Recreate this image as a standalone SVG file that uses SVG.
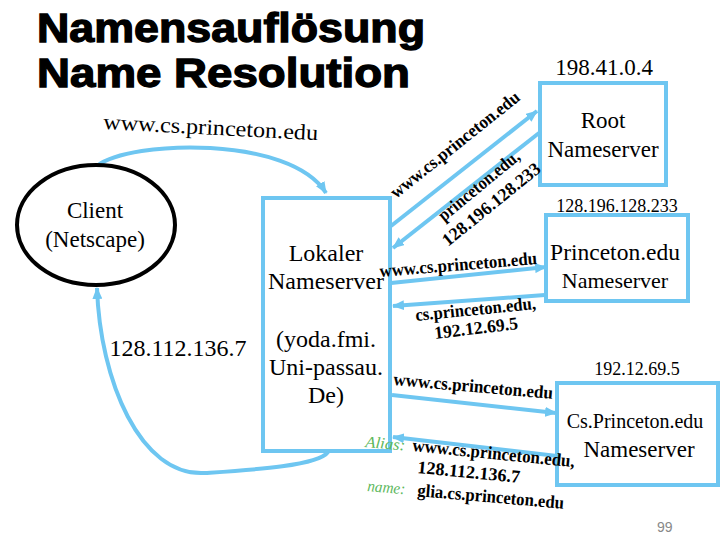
<svg xmlns="http://www.w3.org/2000/svg" width="720" height="540" viewBox="0 0 720 540">
<style>
.title{font-family:"Liberation Sans",Arial,sans-serif;font-weight:bold;font-size:40px;fill:#000;stroke:#000;stroke-width:1.3}
.box{fill:#fff;stroke:#6EC6F1;stroke-width:4}
.t{font-family:"Liberation Serif","Times New Roman",serif;fill:#000;text-anchor:middle}
.lbl{font-family:"Liberation Serif","Times New Roman",serif;font-weight:bold;fill:#000;font-size:18px}
.g{font-family:"Liberation Serif","Times New Roman",serif;font-style:italic;fill:#5CB85C;font-size:16px}
.c{fill:none;stroke:#6EC6F1;stroke-width:4}
</style>
<defs>
<marker id="ah" viewBox="0 0 12 10" refX="11" refY="5" markerWidth="12" markerHeight="10" markerUnits="userSpaceOnUse" orient="auto">
<path d="M0,0 L12,5 L0,10 Z" fill="#6EC6F1"/>
</marker>
</defs>
<rect width="720" height="540" fill="#fff"/>
<g id="title">
<text class="title" x="37" y="42" textLength="388" lengthAdjust="spacingAndGlyphs">Namensauflösung</text>
<text class="title" x="37" y="87" textLength="373" lengthAdjust="spacingAndGlyphs">Name Resolution</text>
</g>
<g id="connectors">
<path class="c" d="M97,166 C130,140 290,135 326,193" marker-end="url(#ah)"/>
<path class="c" d="M328,452 C318,466 250,470 205,473 C140,477 100,380 97,288" marker-end="url(#ah)"/>
<path class="c" d="M391,226 L537,111" marker-end="url(#ah)"/>
<path class="c" d="M539,133 L393,248" marker-end="url(#ah)"/>
<path class="c" d="M391,283 L546,267" marker-end="url(#ah)"/>
<path class="c" d="M545,295 L393,306" marker-end="url(#ah)"/>
<path class="c" d="M392,395 L556,413" marker-end="url(#ah)"/>
<path class="c" d="M557,456 L393,437" marker-end="url(#ah)"/>
</g>
<g id="client">
<ellipse cx="96" cy="225" rx="79" ry="60" fill="#fff" stroke="#000" stroke-width="4"/>
<text class="t" x="95" y="218" font-size="23">Client</text>
<text class="t" x="95" y="247" font-size="23">(Netscape)</text>
<text class="t" x="178" y="356" font-size="24">128.112.136.7</text>
</g>
<g id="lokaler">
<rect class="box" x="263" y="198" width="127" height="253"/>
<text class="t" x="326" y="261" font-size="24">Lokaler</text>
<text class="t" x="326" y="289" font-size="24">Nameserver</text>
<text class="t" x="326" y="347" font-size="24">(yoda.fmi.</text>
<text class="t" x="326" y="375" font-size="24">Uni-passau.</text>
<text class="t" x="326" y="403" font-size="24">De)</text>
</g>
<g id="root">
<rect class="box" x="540" y="83" width="126" height="102"/>
<text class="t" x="604" y="75" font-size="23">198.41.0.4</text>
<text class="t" x="603" y="128" font-size="23">Root</text>
<text class="t" x="603" y="157" font-size="23">Nameserver</text>
</g>
<g id="princeton">
<rect class="box" x="546" y="215" width="142" height="86"/>
<text class="t" x="617" y="212" font-size="18">128.196.128.233</text>
<text class="t" x="615" y="260" font-size="23.5">Princeton.edu</text>
<text class="t" x="615" y="288" font-size="22">Nameserver</text>
</g>
<g id="csprinceton">
<rect class="box" x="557" y="383" width="161" height="102"/>
<text class="t" x="637" y="375" font-size="18">192.12.69.5</text>
<text class="t" x="635" y="428" font-size="20">Cs.Princeton.edu</text>
<text class="t" x="639" y="457" font-size="23">Nameserver</text>
</g>
<g id="labels">
<text class="t" x="103" y="129" style="text-anchor:start;font-size:22px" transform="rotate(3 103 129)" textLength="215" lengthAdjust="spacingAndGlyphs">www.cs.princeton.edu</text>
<text class="lbl" x="396" y="199" transform="rotate(-38.5 396 199)" textLength="160" lengthAdjust="spacingAndGlyphs">www.cs.princeton.edu</text>
<text class="lbl" x="444" y="222" transform="rotate(-39.5 444 222)" textLength="100" lengthAdjust="spacingAndGlyphs">princeton.edu,</text>
<text class="lbl" x="448" y="247" transform="rotate(-39 448 247)" textLength="121" lengthAdjust="spacingAndGlyphs">128.196.128.233</text>
<text class="lbl" x="380" y="277" transform="rotate(-4.7 380 277)" textLength="158" lengthAdjust="spacingAndGlyphs">www.cs.princeton.edu</text>
<text class="lbl" x="416" y="321" transform="rotate(-5.7 416 321)" textLength="121" lengthAdjust="spacingAndGlyphs">cs.princeton.edu,</text>
<text class="lbl" x="435" y="339" transform="rotate(-6.8 435 339)" textLength="84" lengthAdjust="spacingAndGlyphs">192.12.69.5</text>
<text class="lbl" x="393" y="385" transform="rotate(5 393 385)" textLength="160" lengthAdjust="spacingAndGlyphs">www.cs.princeton.edu</text>
<text class="g" x="365" y="447" transform="rotate(5 365 447)" textLength="40" lengthAdjust="spacingAndGlyphs">Alias:</text>
<text class="lbl" x="412" y="451" transform="rotate(5.7 412 451)" textLength="163" lengthAdjust="spacingAndGlyphs">www.cs.princeton.edu,</text>
<text class="lbl" x="417" y="473" transform="rotate(5.5 417 473)" textLength="103" lengthAdjust="spacingAndGlyphs">128.112.136.7</text>
<text class="g" x="367" y="491" transform="rotate(5 367 491)" textLength="38" lengthAdjust="spacingAndGlyphs">name:</text>
<text class="lbl" x="417" y="496" transform="rotate(5 417 496)" textLength="147" lengthAdjust="spacingAndGlyphs">glia.cs.princeton.edu</text>
</g>
<text x="657" y="532" font-family="'Liberation Sans',Arial,sans-serif" font-size="14" fill="#888">99</text>
</svg>
